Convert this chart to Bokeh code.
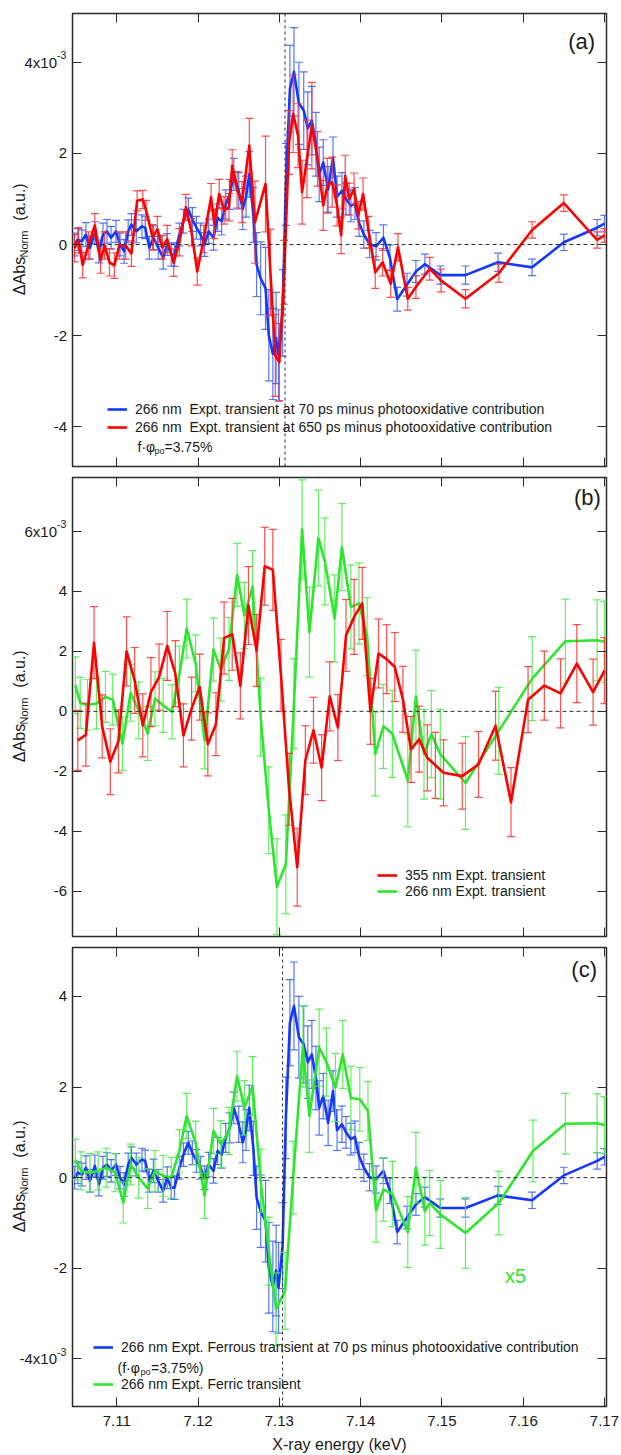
import math
from bokeh.plotting import figure
from bokeh.models import (Range1d, LinearAxis, FixedTicker, Span, Label, Legend,
                          LegendItem, ColumnDataSource)
from bokeh.layouts import column, row
from bokeh.embed import file_html
from bokeh.resources import INLINE
from bokeh.core.properties import value

# ---------------------------------------------------------------- data
x_ticks = [7.11, 7.12, 7.13, 7.14, 7.15, 7.16, 7.17]
x_lim = (7.10455, 7.17025)

# 266 nm, ferrous transient at 70 ps minus photooxidative contribution (x1e-3)
fe70_E = [7.1048, 7.1052, 7.1057, 7.1062, 7.1067, 7.1073, 7.1078, 7.1083, 7.1088, 7.1093,
          7.1099, 7.1104, 7.1109, 7.1114, 7.1118, 7.1124, 7.1131, 7.1135, 7.1140, 7.1145,
          7.1151, 7.1157, 7.1162, 7.1167, 7.1171, 7.1177, 7.1182, 7.1188, 7.1193, 7.1198,
          7.1203, 7.1208, 7.1213, 7.1219, 7.1224, 7.1229, 7.1234, 7.1239, 7.1244, 7.1250,
          7.1255, 7.1259, 7.1263, 7.1268, 7.1272, 7.1277, 7.1283, 7.1287, 7.1292, 7.1296,
          7.1299, 7.1304, 7.1308, 7.1313, 7.1318, 7.1324, 7.1330, 7.1335, 7.1340, 7.1345,
          7.1349, 7.1354, 7.1360, 7.1366, 7.1371, 7.1377, 7.1382, 7.1388, 7.1393, 7.1398,
          7.1404, 7.1411, 7.1419, 7.1428, 7.1436, 7.1445, 7.1457, 7.1468, 7.1479, 7.1498,
          7.1529, 7.1569, 7.1611, 7.1650, 7.1691, 7.1700]
fe70_dA = [0.00, 0.11, 0.07, 0.22, -0.07, 0.26, -0.15, 0.22, 0.29, 0.15,
           0.29, 0.00, -0.15, 0.29, 0.44, 0.29, 0.40, 0.37, -0.07, 0.15,
           -0.07, -0.29, 0.00, -0.22, -0.22, 0.22, 0.51, 0.77, 0.55, 0.37,
           0.22, 0.00, 0.29, 0.15, 0.59, 0.51, 0.88, 1.10, 1.54, 1.18,
           0.78, 1.05, 1.54, 0.65, -0.44, -0.74, -0.96, -1.99, -2.40, -2.05,
           -2.43, -1.50, 1.32, 3.42, 3.79, 3.10, 2.94, 2.55, 2.72, 2.20,
           1.54, 1.80, 1.21, 1.91, 1.05, 1.18, 1.00, 0.85, 0.90, 0.48,
           0.22, 0.01, -0.04, 0.15, -0.29, -1.20, -0.88, -0.59, -0.43, -0.67,
           -0.67, -0.39, -0.50, 0.05, 0.37, 0.46]
fe70_err = [0.25, 0.24, 0.25, 0.26, 0.25, 0.24, 0.25, 0.25, 0.26, 0.25,
            0.24, 0.25, 0.26, 0.25, 0.24, 0.25, 0.25, 0.24, 0.25, 0.26,
            0.25, 0.25, 0.24, 0.25, 0.26, 0.25, 0.26, 0.25, 0.26, 0.25,
            0.25, 0.26, 0.27, 0.27, 0.30, 0.30, 0.32, 0.33, 0.35, 0.40,
            0.45, 0.45, 0.50, 0.60, 0.70, 0.80, 0.90, 1.00, 1.00, 1.00,
            1.00, 0.95, 0.90, 0.95, 0.97, 0.90, 0.85, 0.80, 0.75, 0.70,
            0.60, 0.50, 0.50, 0.45, 0.45, 0.40, 0.35, 0.35, 0.35, 0.30,
            0.30, 0.30, 0.30, 0.28, 0.28, 0.26, 0.25, 0.24, 0.22, 0.20,
            0.20, 0.20, 0.18, 0.18, 0.18, 0.18]

# 266 nm, transient at 650 ps minus photooxidative contribution (x1e-3)
t650_E = [7.1048, 7.1053, 7.1058, 7.1065, 7.1073, 7.1080, 7.1085, 7.1091, 7.1097, 7.1103,
          7.1111, 7.1118, 7.1125, 7.1132, 7.1136, 7.1144, 7.1150, 7.1156, 7.1162, 7.1170,
          7.1177, 7.1185, 7.1192, 7.1199, 7.1207, 7.1216, 7.1220, 7.1226, 7.1232, 7.1238,
          7.1242, 7.1248, 7.1254, 7.1263, 7.1270, 7.1283, 7.1289, 7.1295, 7.1300, 7.1306,
          7.1312, 7.1317, 7.1323, 7.1328, 7.1334, 7.1340, 7.1347, 7.1354, 7.1359, 7.1365,
          7.1371, 7.1376, 7.1381, 7.1386, 7.1392, 7.1397, 7.1403, 7.1410, 7.1418, 7.1427,
          7.1437, 7.1446, 7.1458, 7.1468, 7.1485, 7.1499, 7.1529, 7.1570, 7.1611, 7.1650,
          7.1691, 7.1700]
t650_dA = [-0.08, 0.09, -0.45, -0.02, 0.42, -0.35, -0.02, -0.39, -0.46, -0.02,
           -0.02, -0.20, 0.96, 0.99, 0.75, 0.16, 0.34, -0.06, 0.12, -0.40,
           0.05, 0.82, 0.27, -0.59, 0.12, 1.04, 0.45, 1.11, 0.75, 0.82,
           1.73, 1.20, 0.93, 2.17, 0.49, 1.33, -0.61, -2.43, -2.58, -0.61,
           2.24, 2.87, 2.39, 1.15, 1.88, 2.61, 1.88, 0.86, 1.29, 1.37,
           0.86, 0.20, 1.51, 1.00, 1.22, 0.64, 1.11, 0.27, -0.61, -0.39,
           -0.86, -0.06, -1.19, -0.93, -0.53, -0.79, -1.19, -0.63, 0.32, 0.91,
           0.10, 0.20]
t650_err = [0.30, 0.28, 0.28, 0.30, 0.26, 0.28, 0.30, 0.30, 0.28, 0.30,
            0.30, 0.28, 0.22, 0.20, 0.22, 0.28, 0.28, 0.26, 0.30, 0.30,
            0.30, 0.28, 0.30, 0.30, 0.30, 0.30, 0.32, 0.32, 0.30, 0.30,
            0.35, 0.40, 0.45, 0.60, 0.90, 1.05, 0.95, 0.90, 0.85, 0.70,
            0.70, 0.85, 0.70, 0.70, 0.85, 0.95, 0.60, 0.55, 0.60, 0.55,
            0.45, 0.40, 0.45, 0.35, 0.35, 0.30, 0.35, 0.35, 0.35, 0.30,
            0.30, 0.30, 0.25, 0.25, 0.25, 0.25, 0.20, 0.20, 0.18, 0.18,
            0.18, 0.15]

# 355 nm Expt. transient (x1e-3)
t355_E = [7.1052, 7.1062, 7.1072, 7.1082, 7.1092, 7.1102, 7.1112, 7.1122, 7.1132, 7.1142,
          7.1152, 7.1162, 7.1172, 7.1182, 7.1192, 7.1202, 7.1212, 7.1222, 7.1232, 7.1242,
          7.1252, 7.1262, 7.1272, 7.1282, 7.1292, 7.1302, 7.1312, 7.1322, 7.1332, 7.1342,
          7.1352, 7.1362, 7.1372, 7.1382, 7.1392, 7.1402, 7.1412, 7.1422, 7.1432, 7.1442,
          7.1452, 7.1462, 7.1472, 7.1482, 7.1492, 7.1502, 7.1525, 7.1545, 7.1566, 7.1585,
          7.1606, 7.1626, 7.1646, 7.1666, 7.1686, 7.1700]
t355_dA = [-0.97, -0.78, 2.29, -0.50, -1.68, -1.00, 2.00, 1.03, -0.47, 0.64,
           1.14, 2.18, 1.26, -0.80, 0.09, 0.81, -1.10, -0.43, 2.44, 2.57,
           0.85, 3.53, 2.03, 4.84, 4.72, 1.20, -2.60, -5.20, -1.63, -0.63,
           -1.88, 0.50, -0.54, 2.53, 3.15, 3.60, 0.00, 1.93, 1.74, 1.48,
           0.40, -1.27, -0.93, -1.55, -1.80, -2.05, -2.16, -1.77, -0.48, -3.03,
           0.39, 0.86, 0.60, 1.59, 0.64, 1.36]
t355_err = [1.00, 1.05, 1.20, 1.05, 1.10, 1.05, 1.15, 1.10, 1.05, 1.15,
            1.10, 1.15, 1.10, 1.05, 1.05, 1.10, 1.05, 1.05, 1.20, 1.20,
            1.10, 1.30, 1.20, 1.30, 1.35, 1.20, 1.20, 1.30, 1.15, 1.10,
            1.10, 1.15, 1.10, 1.20, 1.25, 1.20, 1.10, 1.15, 1.15, 1.15,
            1.10, 1.10, 1.10, 1.10, 1.10, 1.10, 1.10, 1.10, 1.15, 1.15,
            1.10, 1.15, 1.15, 1.30, 1.10, 1.10]

# 266 nm Expt. transient (x1e-3)
t266_E = [7.1049, 7.1055, 7.1064, 7.1075, 7.1086, 7.1095, 7.1107, 7.1117, 7.1127, 7.1138,
          7.1147, 7.1157, 7.1168, 7.1177, 7.1186, 7.1197, 7.1208, 7.1219, 7.1228, 7.1238,
          7.1248, 7.1257, 7.1267, 7.1277, 7.1287, 7.1297, 7.1308, 7.1318, 7.1328, 7.1337,
          7.1348, 7.1356, 7.1368, 7.1377, 7.1388, 7.1398, 7.1408, 7.1418, 7.1428, 7.1439,
          7.1458, 7.1468, 7.1478, 7.1487, 7.1498, 7.1529, 7.1570, 7.1611, 7.1652, 7.1691,
          7.1700]
t266_dA = [0.87, 0.28, 0.22, 0.26, 0.48, 0.39, -1.08, 0.62, 0.03, -0.74,
           0.42, 0.20, -0.02, 1.23, 2.76, 1.60, -0.97, 2.06, 1.39, 2.08,
           4.55, 3.20, 4.16, -0.19, -3.30, -5.85, -5.10, 0.26, 6.07, 2.64,
           5.78, 5.00, 3.10, 5.48, 3.48, 3.60, 2.49, -1.42, -0.50, -0.75,
           -2.30, 0.49, -1.43, -0.76, -1.43, -2.39, -0.65, 1.09, 2.34, 2.37,
           2.32]
t266_err = [0.95, 0.85, 0.85, 0.85, 0.85, 0.85, 0.90, 0.95, 0.95, 0.90,
            0.90, 0.90, 0.90, 0.95, 0.98, 0.95, 0.95, 1.05, 1.05, 1.05,
            1.05, 1.10, 1.20, 1.30, 1.45, 1.60, 1.65, 1.50, 1.65, 1.50,
            1.60, 1.45, 1.45, 1.45, 1.40, 1.35, 1.30, 1.40, 1.40, 1.45,
            1.55, 1.55, 1.50, 1.45, 1.50, 1.55, 1.45, 1.40, 1.40, 1.35,
            1.35]

# 266 nm Expt. ferric transient, shown x5 (x1e-3)
ferric_E = [7.1049, 7.1056, 7.1067, 7.1077, 7.1087, 7.1098, 7.1108, 7.1117, 7.1127, 7.1138,
            7.1147, 7.1157, 7.1167, 7.1177, 7.1186, 7.1197, 7.1208, 7.1219, 7.1228, 7.1238,
            7.1248, 7.1257, 7.1267, 7.1277, 7.1287, 7.1296, 7.1307, 7.1317, 7.1329, 7.1337,
            7.1349, 7.1358, 7.1369, 7.1378, 7.1388, 7.1399, 7.1409, 7.1419, 7.1428, 7.1439,
            7.1458, 7.1468, 7.1479, 7.1485, 7.1498, 7.1529, 7.1570, 7.1612, 7.1652, 7.1691,
            7.1700]
ferric_dA = [0.40, 0.15, 0.11, 0.15, 0.22, 0.11, -0.55, 0.29, 0.00, -0.24,
             0.15, 0.04, 0.00, 0.59, 1.36, 0.77, -0.40, 1.03, 0.74, 1.03,
             2.24, 1.54, 2.02, -0.07, -1.62, -2.90, -2.50, 0.00, 2.90, 1.36,
             2.87, 2.55, 1.99, 2.72, 1.76, 1.73, 1.47, -0.72, -0.26, -0.36,
             -1.20, 0.22, -0.74, -0.56, -0.81, -1.22, -0.56, 0.59, 1.19, 1.20,
             1.16]
ferric_err = [0.45, 0.42, 0.42, 0.42, 0.43, 0.42, 0.45, 0.45, 0.45, 0.44,
              0.45, 0.45, 0.45, 0.47, 0.50, 0.48, 0.50, 0.50, 0.52, 0.52,
              0.55, 0.60, 0.65, 0.70, 0.75, 0.80, 0.85, 0.80, 0.90, 0.80,
              0.85, 0.75, 0.75, 0.75, 0.70, 0.70, 0.65, 0.70, 0.70, 0.72,
              0.78, 0.78, 0.75, 0.72, 0.75, 0.78, 0.70, 0.68, 0.67, 0.65,
              0.63]

# y axes (values in units of 1e-3); the scaled tick carries the "x10^-3"
ylim_a = (-4.87, 5.07)
yticks_a = [-4, -2, 0, 2, 4]
yticklabels_a = ["-4", "-2", "0", "2", "4x10"]
ylim_b = (-7.51, 7.80)
yticks_b = [-6, -4, -2, 0, 2, 4, 6]
yticklabels_b = ["-6", "-4", "-2", "0", "2", "4", "6x10"]
ylim_c = (-5.05, 5.08)
yticks_c = [-4, -2, 0, 2, 4]
yticklabels_c = ["-4x10", "-2", "0", "2", "4"]
exponent = "-3"
edge_a, edge_c = 7.1307, 7.1304

# ---------------------------------------------------------------- style
FONT = "Liberation Sans"
INK = "#1a1a1a"
FRAME = "#2b2b2b"
BLUE, BLUE_ERR = "#1438ff", "#3a5fff"
RED, RED_ERR = "#ff0000", "#ff3030"
GREEN, GREEN_ERR = "#2ee62e", "#44ee44"
TOTAL_W, STRIP_W, RIGHT = 621, 70, 15
MAIN_W = TOTAL_W - STRIP_W
FRAME_LEFT = 72          # page x of the plot frame


def style_axis(ax):
    ax.major_tick_in = 9
    ax.major_tick_out = 0
    ax.minor_tick_in = 0
    ax.minor_tick_out = 0
    ax.axis_line_color = None
    ax.major_tick_line_color = FRAME
    ax.major_tick_line_width = 1
    ax.major_label_text_font = FONT
    ax.major_label_text_color = None
    ax.major_label_text_font_size = "0px"
    ax.major_label_standoff = 0


def panel(height, top, bottom, y_range, yticks, x_labels):
    p = figure(width=MAIN_W, height=height, x_range=Range1d(*x_lim), y_range=y_range,
               output_backend="svg", toolbar_location=None,
               x_axis_location=None, y_axis_location=None,
               min_border_left=FRAME_LEFT - STRIP_W, min_border_right=RIGHT,
               min_border_top=top, min_border_bottom=bottom)
    p.grid.visible = False
    p.outline_line_color = FRAME
    p.outline_line_width = 1.5
    p.background_fill_color = "white"
    p.border_fill_color = "white"
    for loc in ("below", "above"):
        ax = LinearAxis(ticker=FixedTicker(ticks=x_ticks))
        style_axis(ax)
        if loc == "below" and x_labels:
            ax.major_label_text_color = INK
            ax.major_label_text_font_size = "15px"
            ax.major_label_standoff = 9
            ax.axis_label = "X-ray energy (keV)"
            ax.axis_label_text_font = FONT
            ax.axis_label_text_font_size = "16px"
            ax.axis_label_text_font_style = "normal"
            ax.axis_label_text_color = INK
            ax.axis_label_standoff = 7
        p.add_layout(ax, loc)
    for loc in ("left", "right"):
        ax = LinearAxis(ticker=FixedTicker(ticks=yticks))
        style_axis(ax)
        p.add_layout(ax, loc)
    p.add_layout(Span(location=0, dimension="width", line_color=FRAME,
                      line_dash="4 3", line_width=1))
    return p


def strip(height, top, bottom, y_range, yticks, yticklabels, frame_h):
    """Left margin: y tick labels and the rotated y-axis title (x in page px)."""
    s = figure(width=STRIP_W, height=height, x_range=Range1d(0, STRIP_W), y_range=y_range,
               output_backend="svg", toolbar_location=None,
               x_axis_location=None, y_axis_location=None,
               min_border_left=0, min_border_right=0,
               min_border_top=top, min_border_bottom=bottom)
    s.grid.visible = False
    s.outline_line_color = None
    s.background_fill_color = "white"
    s.border_fill_color = "white"
    plain = [(t, l) for t, l in zip(yticks, yticklabels) if "x10" not in l]
    sci = [(t, l) for t, l in zip(yticks, yticklabels) if "x10" in l]
    s.text(x=66.5, y=[t for t, _ in plain], text=[l for _, l in plain],
           text_font=value(FONT), text_font_size="15px", text_color=INK,
           text_align="right", text_baseline="middle")
    s.text(x=56.5, y=[t for t, _ in sci], text=[l for _, l in sci],
           text_font=value(FONT), text_font_size="15px", text_color=INK,
           text_align="right", text_baseline="middle")
    for t, _ in sci:
        s.add_layout(Label(x=56.5, y=t, text=exponent, text_font=FONT,
                           text_font_size="10.5px", text_color=INK, text_align="left",
                           text_baseline="middle", y_offset=7))
    px_per_y = frame_h / (y_range.end - y_range.start)
    cy = (y_range.start + y_range.end) / 2
    for txt, x, dy, size in (("ΔAbs", 19, -36, "16px"), ("Norm", 23.5, -4, "11px"),
                             ("(a.u.)", 19, 38, "16px")):
        s.add_layout(Label(x=x, y=cy + dy / px_per_y, text=txt, angle=math.pi / 2,
                           text_align="center", text_baseline="middle",
                           text_font=FONT, text_font_size=size, text_color=INK))
    return s


def trace(p, E, dA, err, color, err_color):
    src = ColumnDataSource(dict(x=E, y=dA,
                                lo=[a - e for a, e in zip(dA, err)],
                                hi=[a + e for a, e in zip(dA, err)]))
    p.segment(x0="x", y0="lo", x1="x", y1="hi", source=src,
              line_color=err_color, line_width=1.2, line_alpha=0.85)
    for col in ("lo", "hi"):
        p.scatter(x="x", y=col, marker="dash", size=8, source=src,
                  line_color=err_color, line_width=1.2, line_alpha=0.85)
    return p.line(x="x", y="y", source=src, line_color=color, line_width=2.6,
                  line_join="round")


def legend(p, items, loc, row_h):
    lg = Legend(items=[LegendItem(label=value(t), renderers=[r]) for t, r in items],
                location=loc, orientation="vertical", border_line_color=None,
                background_fill_alpha=0, padding=0, margin=0, spacing=0,
                glyph_width=20, glyph_height=row_h, label_height=row_h,
                label_standoff=8, label_text_font=FONT, label_text_font_size="14px",
                label_text_color=INK)
    p.add_layout(lg)


def phi_note(p, x, y, pre, post, sub_dx, post_dx):
    p.add_layout(Label(x=x, y=y, x_units="screen", y_units="screen", text=pre,
                       text_font=FONT, text_font_size="14px", text_color=INK,
                       text_align="left", text_baseline="middle"))
    p.add_layout(Label(x=x + sub_dx, y=y, x_units="screen", y_units="screen", text="po",
                       text_font=FONT, text_font_size="9px", text_color=INK,
                       text_align="left", text_baseline="middle", y_offset=-4))
    p.add_layout(Label(x=x + post_dx, y=y, x_units="screen", y_units="screen", text=post,
                       text_font=FONT, text_font_size="14px", text_color=INK,
                       text_align="left", text_baseline="middle"))


def tag(p, x, y, t):
    p.add_layout(Label(x=x, y=y, text=t, text_font=FONT, text_font_size="22px",
                       text_color=INK, text_align="center", text_baseline="middle"))


# ---------------------------------------------------------------- panel (a)
yr_a = Range1d(*ylim_a)
pa = panel(471, 13, 5, yr_a, yticks_a, False)
sa = strip(471, 13, 5, yr_a, yticks_a, yticklabels_a, 453)
pa.add_layout(Span(location=edge_a, dimension="height", line_color=FRAME,
                   line_dash="3 3", line_width=1))
ra_blue = trace(pa, fe70_E, fe70_dA, fe70_err, BLUE, BLUE_ERR)
ra_red = trace(pa, t650_E, t650_dA, t650_err, RED, RED_ERR)
legend(pa, [("266 nm\u00a0 Expt. transient at 70 ps minus photooxidative contribution", ra_blue),
            ("266 nm\u00a0 Expt. transient at 650 ps minus photooxidative contribution", ra_red)],
       (35, 30), 18)
phi_note(pa, 65, 20, "f·φ", "=3.75%", 17, 27)
tag(pa, 7.1672, 4.46, "(a)")

# ---------------------------------------------------------------- panel (b)
yr_b = Range1d(*ylim_b)
pb = panel(470, 6, 5, yr_b, yticks_b, False)
sb = strip(470, 6, 5, yr_b, yticks_b, yticklabels_b, 459)
rb_green = trace(pb, t266_E, t266_dA, t266_err, GREEN, GREEN_ERR)
rb_red = trace(pb, t355_E, t355_dA, t355_err, RED, RED_ERR)
legend(pb, [("355 nm Expt. transient", rb_red), ("266 nm Expt. transient", rb_green)],
       (305, 37), 16)
tag(pb, 7.1679, 7.13, "(b)")

# ---------------------------------------------------------------- panel (c)
yr_c = Range1d(*ylim_c)
pc = panel(514, 6, 49, yr_c, yticks_c, True)
sc = strip(514, 6, 49, yr_c, yticks_c, yticklabels_c, 459)
pc.add_layout(Span(location=edge_c, dimension="height", line_color=FRAME,
                   line_dash="3 3", line_width=1))
rc_blue = trace(pc, fe70_E, fe70_dA, fe70_err, BLUE, BLUE_ERR)
rc_green = trace(pc, ferric_E, ferric_dA, ferric_err, GREEN, GREEN_ERR)
legend(pc, [("266 nm Expt. Ferrous transient at 70 ps minus photooxidative contribution",
             rc_blue)], (21, 50), 18)
legend(pc, [("266 nm Expt. Ferric transient", rc_green)], (21, 13), 18)
phi_note(pc, 45, 39, "(f·φ", "=3.75%)", 23, 33.5)
pc.add_layout(Label(x=7.15906, y=-2.16, text="x5", text_font=FONT, text_font_size="20px",
                    text_color=GREEN, text_align="center", text_baseline="middle"))
tag(pc, 7.1675, 4.59, "(c)")

layout = column(row(sa, pa, spacing=0), row(sb, pb, spacing=0), row(sc, pc, spacing=0),
                spacing=0)
open("out.html", "w").write(file_html(layout, INLINE))
